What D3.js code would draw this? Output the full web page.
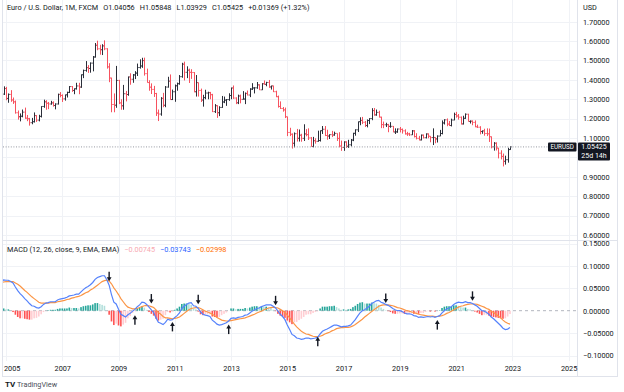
<!DOCTYPE html>
<html><head><meta charset="utf-8">
<script src="https://cdn.jsdelivr.net/npm/d3@7"></script>
<style>html,body{margin:0;padding:0;background:#fff;overflow:hidden}svg{display:block;font-family:Roboto,"Noto Sans",sans-serif}</style>
</head><body><div id="chart"></div>
<script>
// ---------- DATA (monthly bars, Nov 2004 – Dec 2022) ----------
const firstMonth = [2004, 10]; // year, zero-based month of first bar
const opens = [
1.2740,1.3266,
1.3554,1.3043,1.3251,1.2963,1.2867,1.2304,1.2098,1.2125,1.2336,1.2025,1.1996,1.1792,
1.1842,1.2159,1.1924,1.2118,1.2628,1.2869,1.2794,1.2757,1.2815,1.2678,1.2756,1.3250,
1.3197,1.3021,1.3229,1.3354,1.3655,1.3453,1.3541,1.3686,1.3629,1.4264,1.4486,1.4632,
1.4589,1.4864,1.5178,1.5784,1.5603,1.5555,1.5754,1.5602,1.4670,1.4095,1.2730,1.2693,
1.3971,1.2812,1.2663,1.3285,1.3245,1.4151,1.4032,1.4254,1.4349,1.4636,1.4716,1.4995,
1.4321,1.3862,1.3623,1.3509,1.3296,1.2289,1.2237,1.3048,1.2691,1.3629,1.3932,1.2985,
1.3387,1.3695,1.3803,1.4165,1.4810,1.4391,1.4500,1.4389,1.4378,1.3387,1.3859,1.3455,
1.2960,1.3085,1.3321,1.3343,1.3236,1.2362,1.2669,1.2306,1.2579,1.2860,1.2954,1.2984,
1.3193,1.3582,1.3062,1.2818,1.3169,1.2997,1.3010,1.3302,1.3219,1.3525,1.3583,1.3590,
1.3743,1.3485,1.3802,1.3770,1.3867,1.3635,1.3691,1.3390,1.3132,1.2629,1.2525,1.2452,
1.2098,1.1289,1.1196,1.0731,1.1224,1.0987,1.1147,1.0985,1.1213,1.1177,1.1005,1.0565,
1.0863,1.0832,1.0873,1.1380,1.1454,1.1131,1.1103,1.1174,1.1157,1.1240,1.0982,1.0587,
1.0517,1.0798,1.0575,1.0652,1.0895,1.1243,1.1425,1.1842,1.1908,1.1814,1.1646,1.1904,
1.2005,1.2415,1.2194,1.2324,1.2078,1.1693,1.1684,1.1691,1.1603,1.1604,1.1312,1.1318,
1.1466,1.1446,1.1371,1.1216,1.1214,1.1166,1.1370,1.1076,1.0986,1.0901,1.1151,1.1017,
1.1212,1.1094,1.1027,1.1029,1.0955,1.1101,1.1234,1.1779,1.1938,1.1720,1.1646,1.1928,
1.2217,1.2137,1.2075,1.1727,1.2018,1.2228,1.1857,1.1869,1.1808,1.1578,1.1558,1.1337,
1.1370,1.1235,1.1219,1.1067,1.0545,1.0733,1.0484,1.0220,1.0054,0.9801,0.9883,1.04056];
const highs = [
1.3300,1.3667,
1.3640,1.3300,1.3470,1.3090,1.2935,1.2420,1.2270,1.2470,1.2570,1.2190,1.2040,1.2040,
1.2320,1.2180,1.2200,1.2640,1.2980,1.2950,1.2860,1.2920,1.2890,1.2790,1.3290,1.3370,
1.3250,1.3240,1.3390,1.3680,1.3680,1.3560,1.3850,1.3850,1.4280,1.4530,1.4970,1.4760,
1.4900,1.5230,1.5900,1.6020,1.5810,1.5840,1.6038,1.5630,1.4860,1.4110,1.3300,1.4720,
1.4000,1.3000,1.3740,1.3430,1.4170,1.4340,1.4300,1.4450,1.4840,1.5060,1.5140,1.5145,
1.4580,1.3980,1.3820,1.3690,1.3330,1.2470,1.3110,1.3330,1.3680,1.4160,1.4280,1.3500,
1.3760,1.3860,1.4250,1.4880,1.4940,1.4700,1.4580,1.4550,1.4400,1.4250,1.3860,1.3550,
1.3230,1.3490,1.3390,1.3380,1.3280,1.2750,1.2690,1.2640,1.3170,1.3140,1.3010,1.3310,
1.3600,1.3710,1.3100,1.3240,1.3240,1.3420,1.3350,1.3450,1.3570,1.3830,1.3620,1.3890,
1.3775,1.3830,1.3970,1.3900,1.3995,1.3700,1.3700,1.3440,1.3190,1.2890,1.2600,1.2570,
1.2100,1.1530,1.1240,1.1290,1.1470,1.1440,1.1220,1.1710,1.1460,1.1500,1.1050,1.1060,
1.0990,1.1380,1.1390,1.1620,1.1620,1.1430,1.1190,1.1370,1.1330,1.1240,1.1300,1.0870,
1.0830,1.0830,1.0910,1.0950,1.1270,1.1450,1.1850,1.2070,1.2090,1.1880,1.1960,1.2020,
1.2540,1.2550,1.2470,1.2410,1.2100,1.1850,1.1790,1.1730,1.1820,1.1620,1.1500,1.1490,
1.1570,1.1490,1.1450,1.1320,1.1270,1.1410,1.1410,1.1250,1.1110,1.1180,1.1180,1.1240,
1.1240,1.1100,1.1500,1.1040,1.1140,1.1420,1.1910,1.1970,1.2010,1.1880,1.2000,1.2310,
1.2350,1.2240,1.2110,1.2150,1.2270,1.2250,1.1910,1.1910,1.1910,1.1690,1.1610,1.1390,
1.1480,1.1500,1.1490,1.1080,1.0790,1.0780,1.0490,1.0370,1.0200,1.0090,1.0500,1.05848];
const lows = [
1.2710,1.3220,
1.2950,1.2820,1.2870,1.2760,1.2260,1.1950,1.1860,1.2070,1.1990,1.1870,1.1640,1.1710,
1.1800,1.1830,1.1860,1.2060,1.2560,1.2460,1.2490,1.2720,1.2620,1.2480,1.2730,1.3100,
1.2860,1.2930,1.3090,1.3320,1.3380,1.3260,1.3500,1.3260,1.3590,1.4090,1.4420,1.4360,
1.4370,1.4440,1.5150,1.5530,1.5300,1.5280,1.5530,1.4580,1.3880,1.2330,1.2330,1.2560,
1.2750,1.2460,1.2460,1.2890,1.3180,1.3750,1.3850,1.4040,1.4200,1.4580,1.4620,1.4220,
1.3860,1.3440,1.3270,1.3120,1.2140,1.1876,1.2150,1.2590,1.2590,1.3600,1.2970,1.2960,
1.2870,1.3440,1.3750,1.4110,1.3970,1.4090,1.3840,1.4050,1.3360,1.3140,1.3140,1.2860,
1.2620,1.3000,1.3000,1.3000,1.2340,1.2290,1.2040,1.2130,1.2560,1.2800,1.2660,1.2920,
1.3000,1.3020,1.2750,1.2750,1.2790,1.2990,1.2750,1.3200,1.3110,1.3480,1.3300,1.3540,
1.3480,1.3480,1.3750,1.3670,1.3590,1.3500,1.3370,1.3110,1.2570,1.2500,1.2360,1.2030,
1.1100,1.1100,1.0458,1.0520,1.0820,1.0820,1.0810,1.0850,1.1090,1.0900,1.0560,1.0520,
1.0710,1.0810,1.0820,1.1210,1.1100,1.0910,1.0950,1.1050,1.1120,1.0850,1.0520,1.0340,
1.0340,1.0490,1.0490,1.0570,1.0840,1.1120,1.1310,1.1660,1.1720,1.1570,1.1550,1.1720,
1.1920,1.2150,1.2150,1.2060,1.1510,1.1510,1.1570,1.1300,1.1530,1.1300,1.1210,1.1270,
1.1290,1.1230,1.1180,1.1110,1.1110,1.1160,1.1030,1.0930,1.0880,1.0880,1.0980,1.0980,
1.0990,1.0780,1.0640,1.0730,1.0770,1.1100,1.1190,1.1700,1.1610,1.1620,1.1600,1.1920,
1.2050,1.1950,1.1700,1.1700,1.1990,1.1850,1.1750,1.1660,1.1560,1.1520,1.1190,1.1220,
1.1120,1.1100,1.0800,1.0470,1.0350,1.0360,0.9950,0.9900,0.9536,0.9630,0.9730,1.03929];
const closes = [
1.3266,1.3554,
1.3043,1.3251,1.2963,1.2867,1.2304,1.2098,1.2125,1.2336,1.2025,1.1996,1.1792,1.1842,
1.2159,1.1924,1.2118,1.2628,1.2869,1.2794,1.2757,1.2815,1.2678,1.2756,1.3250,1.3197,
1.3021,1.3229,1.3354,1.3655,1.3453,1.3541,1.3686,1.3629,1.4264,1.4486,1.4632,1.4589,
1.4864,1.5178,1.5784,1.5603,1.5555,1.5754,1.5602,1.4670,1.4095,1.2730,1.2693,1.3971,
1.2812,1.2663,1.3285,1.3245,1.4151,1.4032,1.4254,1.4349,1.4636,1.4716,1.4995,1.4321,
1.3862,1.3623,1.3509,1.3296,1.2289,1.2237,1.3048,1.2691,1.3629,1.3932,1.2985,1.3387,
1.3695,1.3803,1.4165,1.4810,1.4391,1.4500,1.4389,1.4378,1.3387,1.3859,1.3455,1.2960,
1.3085,1.3321,1.3343,1.3236,1.2362,1.2669,1.2306,1.2579,1.2860,1.2954,1.2984,1.3193,
1.3582,1.3062,1.2818,1.3169,1.2997,1.3010,1.3302,1.3219,1.3525,1.3583,1.3590,1.3743,
1.3485,1.3802,1.3770,1.3867,1.3635,1.3691,1.3390,1.3132,1.2629,1.2525,1.2452,1.2098,
1.1289,1.1196,1.0731,1.1224,1.0987,1.1147,1.0985,1.1213,1.1177,1.1005,1.0565,1.0863,
1.0832,1.0873,1.1380,1.1454,1.1131,1.1103,1.1174,1.1157,1.1240,1.0982,1.0587,1.0517,
1.0798,1.0575,1.0652,1.0895,1.1243,1.1425,1.1842,1.1908,1.1814,1.1646,1.1904,1.2005,
1.2415,1.2194,1.2324,1.2078,1.1693,1.1684,1.1691,1.1603,1.1604,1.1312,1.1318,1.1466,
1.1446,1.1371,1.1216,1.1214,1.1166,1.1370,1.1076,1.0986,1.0901,1.1151,1.1017,1.1212,
1.1094,1.1027,1.1029,1.0955,1.1101,1.1234,1.1779,1.1938,1.1720,1.1646,1.1928,1.2217,
1.2137,1.2075,1.1727,1.2018,1.2228,1.1857,1.1869,1.1808,1.1578,1.1558,1.1337,1.1370,
1.1235,1.1219,1.1067,1.0545,1.0733,1.0484,1.0220,1.0054,0.9801,0.9883,1.0405,1.05425];
const macdLine = [
0.064,0.069,
0.068,0.068,0.065,0.062,0.053,0.045,0.038,0.033,0.027,0.022,0.016,0.011,
0.010,0.007,0.006,0.009,0.014,0.017,0.018,0.020,0.020,0.020,0.024,0.026,
0.027,0.028,0.030,0.033,0.034,0.035,0.037,0.037,0.042,0.047,0.051,0.054,
0.058,0.063,0.070,0.074,0.076,0.078,0.078,0.069,0.057,0.036,0.019,0.015,
0.003,-0.008,-0.011,-0.014,-0.009,-0.006,-0.001,0.003,0.009,0.013,0.019,0.018,
0.014,0.008,0.002,-0.004,-0.016,-0.026,-0.028,-0.031,-0.026,-0.019,-0.021,-0.020,
-0.015,-0.011,-0.005,0.005,0.010,0.014,0.017,0.018,0.011,0.010,0.005,-0.003,
-0.008,-0.010,-0.011,-0.013,-0.021,-0.025,-0.030,-0.032,-0.031,-0.029,-0.027,-0.023,
-0.017,-0.016,-0.017,-0.015,-0.014,-0.013,-0.010,-0.009,-0.005,-0.001,0.002,0.005,
0.006,0.009,0.011,0.013,0.013,0.013,0.010,0.006,-0.001,-0.008,-0.013,-0.020,
-0.032,-0.042,-0.053,-0.056,-0.061,-0.062,-0.064,-0.063,-0.061,-0.061,-0.063,-0.062,
-0.061,-0.059,-0.052,-0.046,-0.043,-0.041,-0.038,-0.035,-0.032,-0.032,-0.034,-0.036,
-0.035,-0.035,-0.034,-0.032,-0.026,-0.020,-0.012,-0.005,0.000,0.002,0.006,0.010,
0.016,0.019,0.022,0.023,0.019,0.017,0.014,0.012,0.009,0.005,0.002,0.000,
0.000,-0.002,-0.005,-0.007,-0.007,-0.008,-0.011,-0.012,-0.015,-0.014,-0.015,-0.014,
-0.013,-0.014,-0.013,-0.015,-0.013,-0.011,-0.005,0.000,0.004,0.006,0.009,0.014,
0.017,0.019,0.018,0.018,0.020,0.018,0.018,0.016,0.013,0.010,0.005,0.000,
-0.001,-0.004,-0.008,-0.014,-0.018,-0.023,-0.028,-0.033,-0.039,-0.042,-0.041,-0.03743];
const signalLine = [
0.063,0.064,
0.065,0.065,0.065,0.065,0.062,0.059,0.055,0.050,0.045,0.041,0.036,0.031,
0.027,0.023,0.019,0.017,0.017,0.017,0.017,0.018,0.018,0.018,0.020,0.021,
0.022,0.023,0.025,0.026,0.028,0.029,0.031,0.032,0.034,0.037,0.040,0.042,
0.046,0.049,0.053,0.057,0.061,0.065,0.067,0.068,0.066,0.060,0.051,0.044,
0.036,0.027,0.020,0.013,0.008,0.006,0.004,0.004,0.005,0.007,0.009,0.011,
0.012,0.011,0.009,0.007,0.002,-0.004,-0.008,-0.013,-0.016,-0.016,-0.017,-0.018,
-0.017,-0.016,-0.014,-0.010,-0.006,-0.002,0.002,0.005,0.006,0.007,0.007,0.005,
0.002,-0.001,-0.003,-0.005,-0.008,-0.011,-0.015,-0.018,-0.021,-0.022,-0.023,-0.023,
-0.022,-0.021,-0.020,-0.019,-0.018,-0.017,-0.016,-0.014,-0.012,-0.010,-0.008,-0.005,
-0.003,-0.001,0.002,0.004,0.006,0.007,0.008,0.007,0.006,0.003,0.000,-0.004,
-0.010,-0.016,-0.023,-0.030,-0.036,-0.041,-0.046,-0.049,-0.052,-0.053,-0.055,-0.057,
-0.058,-0.058,-0.057,-0.055,-0.052,-0.050,-0.048,-0.045,-0.043,-0.040,-0.039,-0.038,
-0.038,-0.037,-0.037,-0.036,-0.034,-0.031,-0.027,-0.023,-0.019,-0.014,-0.010,-0.006,
-0.002,0.002,0.006,0.010,0.012,0.013,0.013,0.013,0.012,0.011,0.009,0.007,
0.006,0.004,0.002,0.000,-0.001,-0.003,-0.004,-0.006,-0.008,-0.009,-0.010,-0.011,
-0.012,-0.012,-0.012,-0.013,-0.013,-0.012,-0.011,-0.009,-0.006,-0.004,-0.001,0.002,
0.005,0.008,0.010,0.011,0.013,0.014,0.015,0.015,0.015,0.014,0.012,0.010,
0.008,0.005,0.003,-0.001,-0.004,-0.008,-0.012,-0.016,-0.021,-0.025,-0.028,-0.02998];
const histogram = [
0.001,0.005,
0.003,0.003,0.000,-0.003,-0.009,-0.014,-0.017,-0.017,-0.018,-0.019,-0.020,-0.020,
-0.017,-0.016,-0.013,-0.008,-0.003,0.000,0.001,0.002,0.002,0.002,0.004,0.005,
0.005,0.005,0.005,0.007,0.006,0.006,0.006,0.005,0.008,0.010,0.011,0.012,
0.012,0.014,0.017,0.017,0.015,0.013,0.011,0.001,-0.009,-0.024,-0.032,-0.029,
-0.033,-0.035,-0.031,-0.027,-0.017,-0.012,-0.005,-0.001,0.004,0.006,0.010,0.007,
0.002,-0.003,-0.007,-0.011,-0.018,-0.022,-0.020,-0.018,-0.010,-0.003,-0.004,-0.002,
0.002,0.005,0.009,0.015,0.016,0.016,0.015,0.013,0.005,0.003,-0.002,-0.008,
-0.010,-0.009,-0.008,-0.008,-0.013,-0.014,-0.015,-0.014,-0.010,-0.007,-0.004,0.000,
0.005,0.005,0.003,0.004,0.004,0.004,0.006,0.005,0.007,0.009,0.010,0.010,
0.009,0.010,0.009,0.009,0.007,0.006,0.002,-0.001,-0.007,-0.011,-0.013,-0.016,
-0.022,-0.026,-0.030,-0.026,-0.025,-0.021,-0.018,-0.014,-0.009,-0.008,-0.008,-0.005,
-0.003,-0.001,0.005,0.009,0.009,0.009,0.010,0.010,0.011,0.008,0.005,0.002,
0.003,0.002,0.003,0.004,0.008,0.011,0.015,0.018,0.019,0.016,0.016,0.016,
0.018,0.017,0.016,0.013,0.007,0.004,0.001,-0.001,-0.003,-0.006,-0.007,-0.007,
-0.006,-0.006,-0.007,-0.007,-0.006,-0.005,-0.007,-0.006,-0.007,-0.005,-0.005,-0.003,
-0.001,-0.002,-0.001,-0.002,0.000,0.001,0.006,0.009,0.010,0.010,0.010,0.012,
0.012,0.011,0.008,0.007,0.007,0.004,0.003,0.001,-0.002,-0.004,-0.007,-0.010,
-0.009,-0.009,-0.011,-0.013,-0.014,-0.015,-0.016,-0.017,-0.018,-0.017,-0.013,-0.00745];
// crossover annotations (arrows drawn on the MACD pane)
const arrowMonths = ["2008-09","2009-08","2010-03","2010-12","2011-11","2012-12","2014-08","2016-02","2018-07","2020-05","2021-08"];
const arrowDirs   = ["down","up","down","up","down","up","down","up","down","up","down"];
const arrowTips   = [0.066,-0.010,0.016,-0.025,0.0145,-0.031,0.012,-0.058,0.0174,-0.021,0.022];
const priceTicks = [1.7,1.6,1.5,1.4,1.3,1.2,1.1,1.0,0.9,0.8,0.7,0.6];
const macdTicks  = [0.15,0.10,0.05,0,-0.05,-0.10];
const yearTicks  = [2005,2007,2009,2011,2013,2015,2017,2019,2021,2023,2025];
const headerTitle = "Euro / U.S. Dollar, 1M, FXCM";
const headerOHLC = [["O","1.04056"],["H","1.05848"],["L","1.03929"],["C","1.05425"]];
const headerChange = "+0.01369 (+1.32%)";
const legendValues = ["−0.00745","−0.03743","−0.02998"];
const lastPrice = 1.05425;

// ---------- LAYOUT ----------
const W = 624, H = 392;
const plotL = 3, plotR = 577, split = 240, macdBot = 361, frameBot = 376;
const FS = 7.3;
const svg = d3.select("#chart").append("svg").attr("width", W).attr("height", H);
const defs = svg.append("defs");
defs.append("clipPath").attr("id","cp").append("rect").attr("x",plotL).attr("y",0).attr("width",plotR-plotL).attr("height",split);
defs.append("clipPath").attr("id","cm").append("rect").attr("x",plotL).attr("y",split).attr("width",plotR-plotL).attr("height",macdBot-split);

const monthIdx = (y,m) => (y-2005)*12 + m;
const idx = opens.map((_,i)=> monthIdx(firstMonth[0], firstMonth[1]) + i);
const x = d3.scaleLinear().domain([0,240]).range([6,568.6]);
const yP = d3.scaleLinear().domain([0.6,1.7]).range([235,21.7]);
const yM = d3.scaleLinear().domain([-0.10,0.15]).range([355.5,243.5]);

const gridC = "#f0f2f6", lineC = "#e0e3eb", textC = "#131722";

// grids
const grid = svg.append("g");
yearTicks.forEach(yr => {
  const gx = Math.round(x(monthIdx(yr,0)))+0.5;
  grid.append("line").attr("x1",gx).attr("x2",gx).attr("y1",0).attr("y2",macdBot).attr("stroke",gridC);
});
priceTicks.forEach(p => {
  const gy = Math.round(yP(p))+0.5;
  grid.append("line").attr("x1",plotL).attr("x2",plotR).attr("y1",gy).attr("y2",gy).attr("stroke",gridC);
});
macdTicks.forEach(v => {
  if (v===0) return;
  const gy = Math.round(yM(v))+0.5;
  grid.append("line").attr("x1",plotL).attr("x2",plotR).attr("y1",gy).attr("y2",gy).attr("stroke",gridC);
});

// frame lines
svg.append("line").attr("x1",plotL).attr("x2",618).attr("y1",split+0.5).attr("y2",split+0.5).attr("stroke",lineC);
svg.append("line").attr("x1",plotR+0.5).attr("x2",plotR+0.5).attr("y1",0).attr("y2",frameBot).attr("stroke",lineC);
svg.append("line").attr("x1",2).attr("x2",618).attr("y1",frameBot+0.5).attr("y2",frameBot+0.5).attr("stroke",lineC);
svg.append("line").attr("x1",617.5).attr("x2",617.5).attr("y1",0).attr("y2",frameBot).attr("stroke",lineC);
svg.append("line").attr("x1",2.5).attr("x2",2.5).attr("y1",0).attr("y2",frameBot).attr("stroke",lineC);

// ---------- PRICE BARS ----------
const bars = svg.append("g").attr("clip-path","url(#cp)");
opens.forEach((o,i) => {
  const cx = Math.round(x(idx[i]))+0.5;
  const up = closes[i] >= o;
  const p = d3.path();
  p.moveTo(cx, yP(highs[i])); p.lineTo(cx, yP(lows[i]));
  p.moveTo(cx-1.2, yP(o)); p.lineTo(cx, yP(o));
  p.moveTo(cx, yP(closes[i])); p.lineTo(cx+1.2, yP(closes[i]));
  bars.append("path").attr("d", p.toString()).attr("fill","none")
    .attr("stroke", up ? "#2a2e39" : "#f7525f").attr("stroke-width",1);
});
// last price dotted line
svg.append("line").attr("x1",plotL).attr("x2",plotR).attr("y1",yP(lastPrice)).attr("y2",yP(lastPrice))
  .attr("stroke","#9598a1").attr("stroke-width",1).attr("stroke-dasharray","1 1.6");

// ---------- MACD ----------
const mg = svg.append("g").attr("clip-path","url(#cm)");
mg.append("line").attr("x1",plotL).attr("x2",plotR).attr("y1",yM(0)).attr("y2",yM(0))
  .attr("stroke","#b2b5be").attr("stroke-dasharray","3 3");
histogram.forEach((h,i) => {
  const prev = i>0 ? histogram[i-1] : h;
  let c;
  if (h >= 0) c = h >= prev ? "#26a69a" : "#b2dfdb";
  else c = h < prev ? "#ff5252" : "#ffcdd2";
  const y0 = yM(0), y1 = yM(h);
  mg.append("rect").attr("x", x(idx[i])-0.8).attr("width",1.6)
    .attr("y", Math.min(y0,y1)).attr("height", Math.abs(y1-y0)).attr("fill", c);
});
const ln = arr => d3.line().x((d,i)=>x(idx[i])).y(d=>yM(d))(arr);
mg.append("path").attr("d", ln(signalLine)).attr("fill","none").attr("stroke","#fb9545").attr("stroke-width",1.2);
mg.append("path").attr("d", ln(macdLine)).attr("fill","none").attr("stroke","#5582fb").attr("stroke-width",1.2);

// arrows
arrowMonths.forEach((s,k) => {
  const [yy,mm] = s.split("-").map(Number);
  const ax = x(monthIdx(yy,mm-1));
  const ty = yM(arrowTips[k]);
  const dir = arrowDirs[k]==="down" ? -1 : 1; // -1: tip at bottom
  const g = mg.append("g");
  g.append("line").attr("x1",ax).attr("x2",ax).attr("y1",ty+dir*3).attr("y2",ty+dir*9.5)
    .attr("stroke",textC).attr("stroke-width",1.4);
  g.append("path").attr("d",`M${ax},${ty} L${ax-2.4},${ty+dir*4} L${ax+2.4},${ty+dir*4} Z`).attr("fill",textC);
});

// ---------- AXES ----------
const fmt = d3.format(".5f");
const ly = yP(lastPrice);
const labelTicks = priceTicks.filter(p => Math.abs(yP(p) - (ly+4.5)) > 11);
const pa = svg.append("g").attr("transform",`translate(${plotR},0)`)
  .call(d3.axisRight(yP).tickValues(labelTicks).tickSize(0).tickPadding(6).tickFormat(fmt));
const ma = svg.append("g").attr("transform",`translate(${plotR},0)`)
  .call(d3.axisRight(yM).tickValues(macdTicks).tickSize(0).tickPadding(6).tickFormat(fmt));
const ta = svg.append("g").attr("transform",`translate(0,${macdBot})`)
  .call(d3.axisBottom(x).tickValues(yearTicks.map(y=>monthIdx(y,0))).tickSize(0).tickPadding(4.5)
    .tickFormat((d,i)=>String(yearTicks[i])));
[pa,ma,ta].forEach(a => {
  a.select(".domain").remove();
  a.selectAll("text").attr("font-size",FS).attr("fill",textC).attr("font-family","Roboto, sans-serif");
});
// keep the first year label inside the frame
ta.selectAll(".tick").each(function(d){
  const t = d3.select(this).select("text");
  if (x(d) - 9 < plotL) t.attr("text-anchor","start").attr("x", plotL + 0.5 - x(d));
});
svg.append("text").attr("x",583).attr("y",9.6).attr("font-size",FS).attr("fill",textC).text("USD");

// price labels
svg.append("rect").attr("x",548).attr("y",ly-4.5).attr("width",28.5).attr("height",9).attr("fill",textC).attr("rx",1);
svg.append("text").attr("x",562.2).attr("y",ly+2.4).attr("text-anchor","middle").attr("font-size",6.3).attr("fill","#fff").text("EURUSD");
svg.append("rect").attr("x",578).attr("y",ly-4.5).attr("width",32).attr("height",18).attr("fill",textC).attr("rx",1);
svg.append("text").attr("x",594).attr("y",ly+2.4).attr("text-anchor","middle").attr("font-size",7).attr("fill","#fff").text(fmt(lastPrice));
svg.append("text").attr("x",594).attr("y",ly+11).attr("text-anchor","middle").attr("font-size",7).attr("fill","#fff").text("25d 14h");

// ---------- HEADER / LEGEND ----------
const hdr = svg.append("text").attr("x",7).attr("y",9.6).attr("font-size",FS).attr("fill",textC);
hdr.append("tspan").text(headerTitle);
headerOHLC.forEach(([k,v]) => { hdr.append("tspan").attr("dx",5).text(k); hdr.append("tspan").text(v); });
hdr.append("tspan").attr("dx",5).text(headerChange);

const lg = svg.append("text").attr("x",7).attr("y",251.5).attr("font-size",FS).attr("fill",textC);
lg.append("tspan").text("MACD (12, 26, close, 9, EMA, EMA)");
const legendColors = ["#f7a9b1","#2962ff","#ff6d00"];
legendValues.forEach((v,k) => lg.append("tspan").attr("dx",5).attr("fill",legendColors[k]).text(v));

// TradingView logo
const tv = svg.append("g").attr("transform","translate(5,387)");
tv.append("text").attr("font-size",8).attr("font-weight","bold").attr("fill","#131722").text("TV");
tv.append("text").attr("x",12).attr("font-size",FS).attr("fill","#4a4e59").text("TradingView");
</script></body></html>
